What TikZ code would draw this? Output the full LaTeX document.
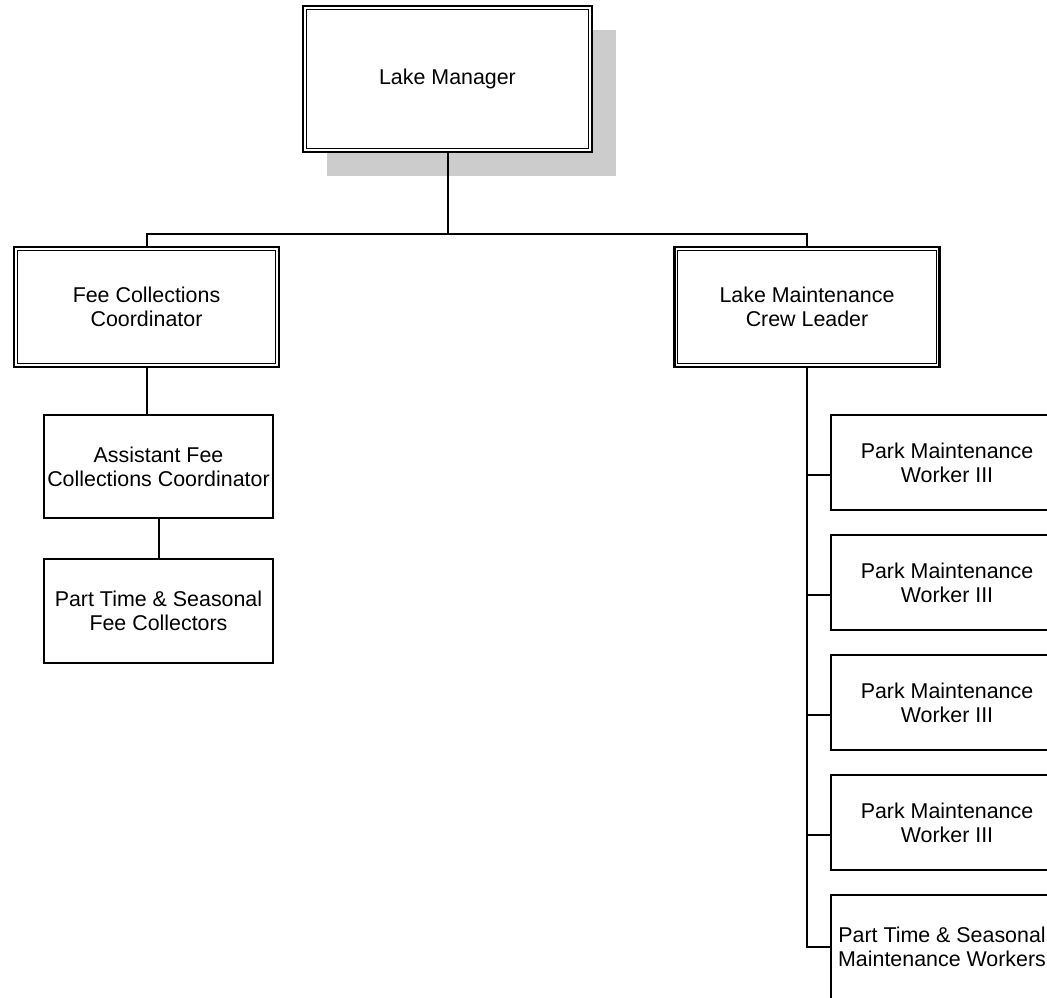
\documentclass[tikz,border=0pt]{standalone}
\usepackage{fontspec}
\setmainfont{Liberation Sans}
\usetikzlibrary{shadows}

\begin{document}
\begin{tikzpicture}[x=0.5pt,y=-0.5pt,
        font=\fontsize{10.7}{12}\selectfont,
        box/.style={draw, line width=1pt, align=center, inner sep=0pt, fill=white},
        headbox/.style={box, line width=1.2pt},
        link/.style={line width=1pt}]

        \useasboundingbox (0,0) rectangle (1047,997);
        \clip (0,0) rectangle (1047,997);

        % top level
        \node[headbox, minimum width=144.5pt, minimum height=73pt,
              drop shadow={shadow xshift=12pt, shadow yshift=-12pt, fill=gray!40, opacity=1}]
              (mgr) at (447.5,79) {Lake Manager};

        % second level
        \node[headbox, minimum width=132.5pt, minimum height=60pt] (feecoord) at (146.5,307) {Fee Collections\\Coordinator};
        \node[headbox, minimum width=132.5pt, minimum height=60pt] (crewlead) at (807,307) {Lake Maintenance\\Crew Leader};

        % inner line of the double frames
        \foreach \n in {mgr,feecoord,crewlead}
            \draw[line width=0.6pt] ([shift={(4.5,4.5)}]\n.north west) rectangle ([shift={(-4.5,-4.5)}]\n.south east);

        % fee branch
        \node[box, minimum width=114.5pt, minimum height=51.5pt] (asstfee) at (158.5,466.5) {Assistant Fee\\Collections Coordinator};
        \node[box, minimum width=114.5pt, minimum height=52pt] (feecoll) at (158.5,611) {Part Time \& Seasonal\\Fee Collectors};

        % maintenance branch
        \foreach \i/\y in {1/462.5,2/582.5,3/702.5,4/822.5}
            \node[box, minimum width=116pt, minimum height=47.5pt] (pmw\i) at (947,\y) {Park Maintenance\\Worker III};
        \node[box, minimum width=111pt, minimum height=52pt] (maintwk) at (942,947) {Part Time \& Seasonal\\Maintenance Workers};

        % connectors
        \coordinate (bar) at (447.5,234);
        \draw[link] (mgr.south) -- (mgr.south |- bar);
        \draw[link] (feecoord.north) |- (crewlead.north |- bar) -- (crewlead.north);

        \draw[link] (feecoord.south) -- (feecoord.south |- asstfee.north);
        \draw[link] (asstfee.south) -- (feecoll.north);

        \draw[link] (crewlead.south) |- (maintwk.west);
        \foreach \i in {1,...,4} {
            \coordinate (tap\i) at ([yshift=-6pt]pmw\i.west);
            \draw[link] (tap\i) -- (tap\i -| crewlead.south);
        }

\end{tikzpicture}
\end{document}
